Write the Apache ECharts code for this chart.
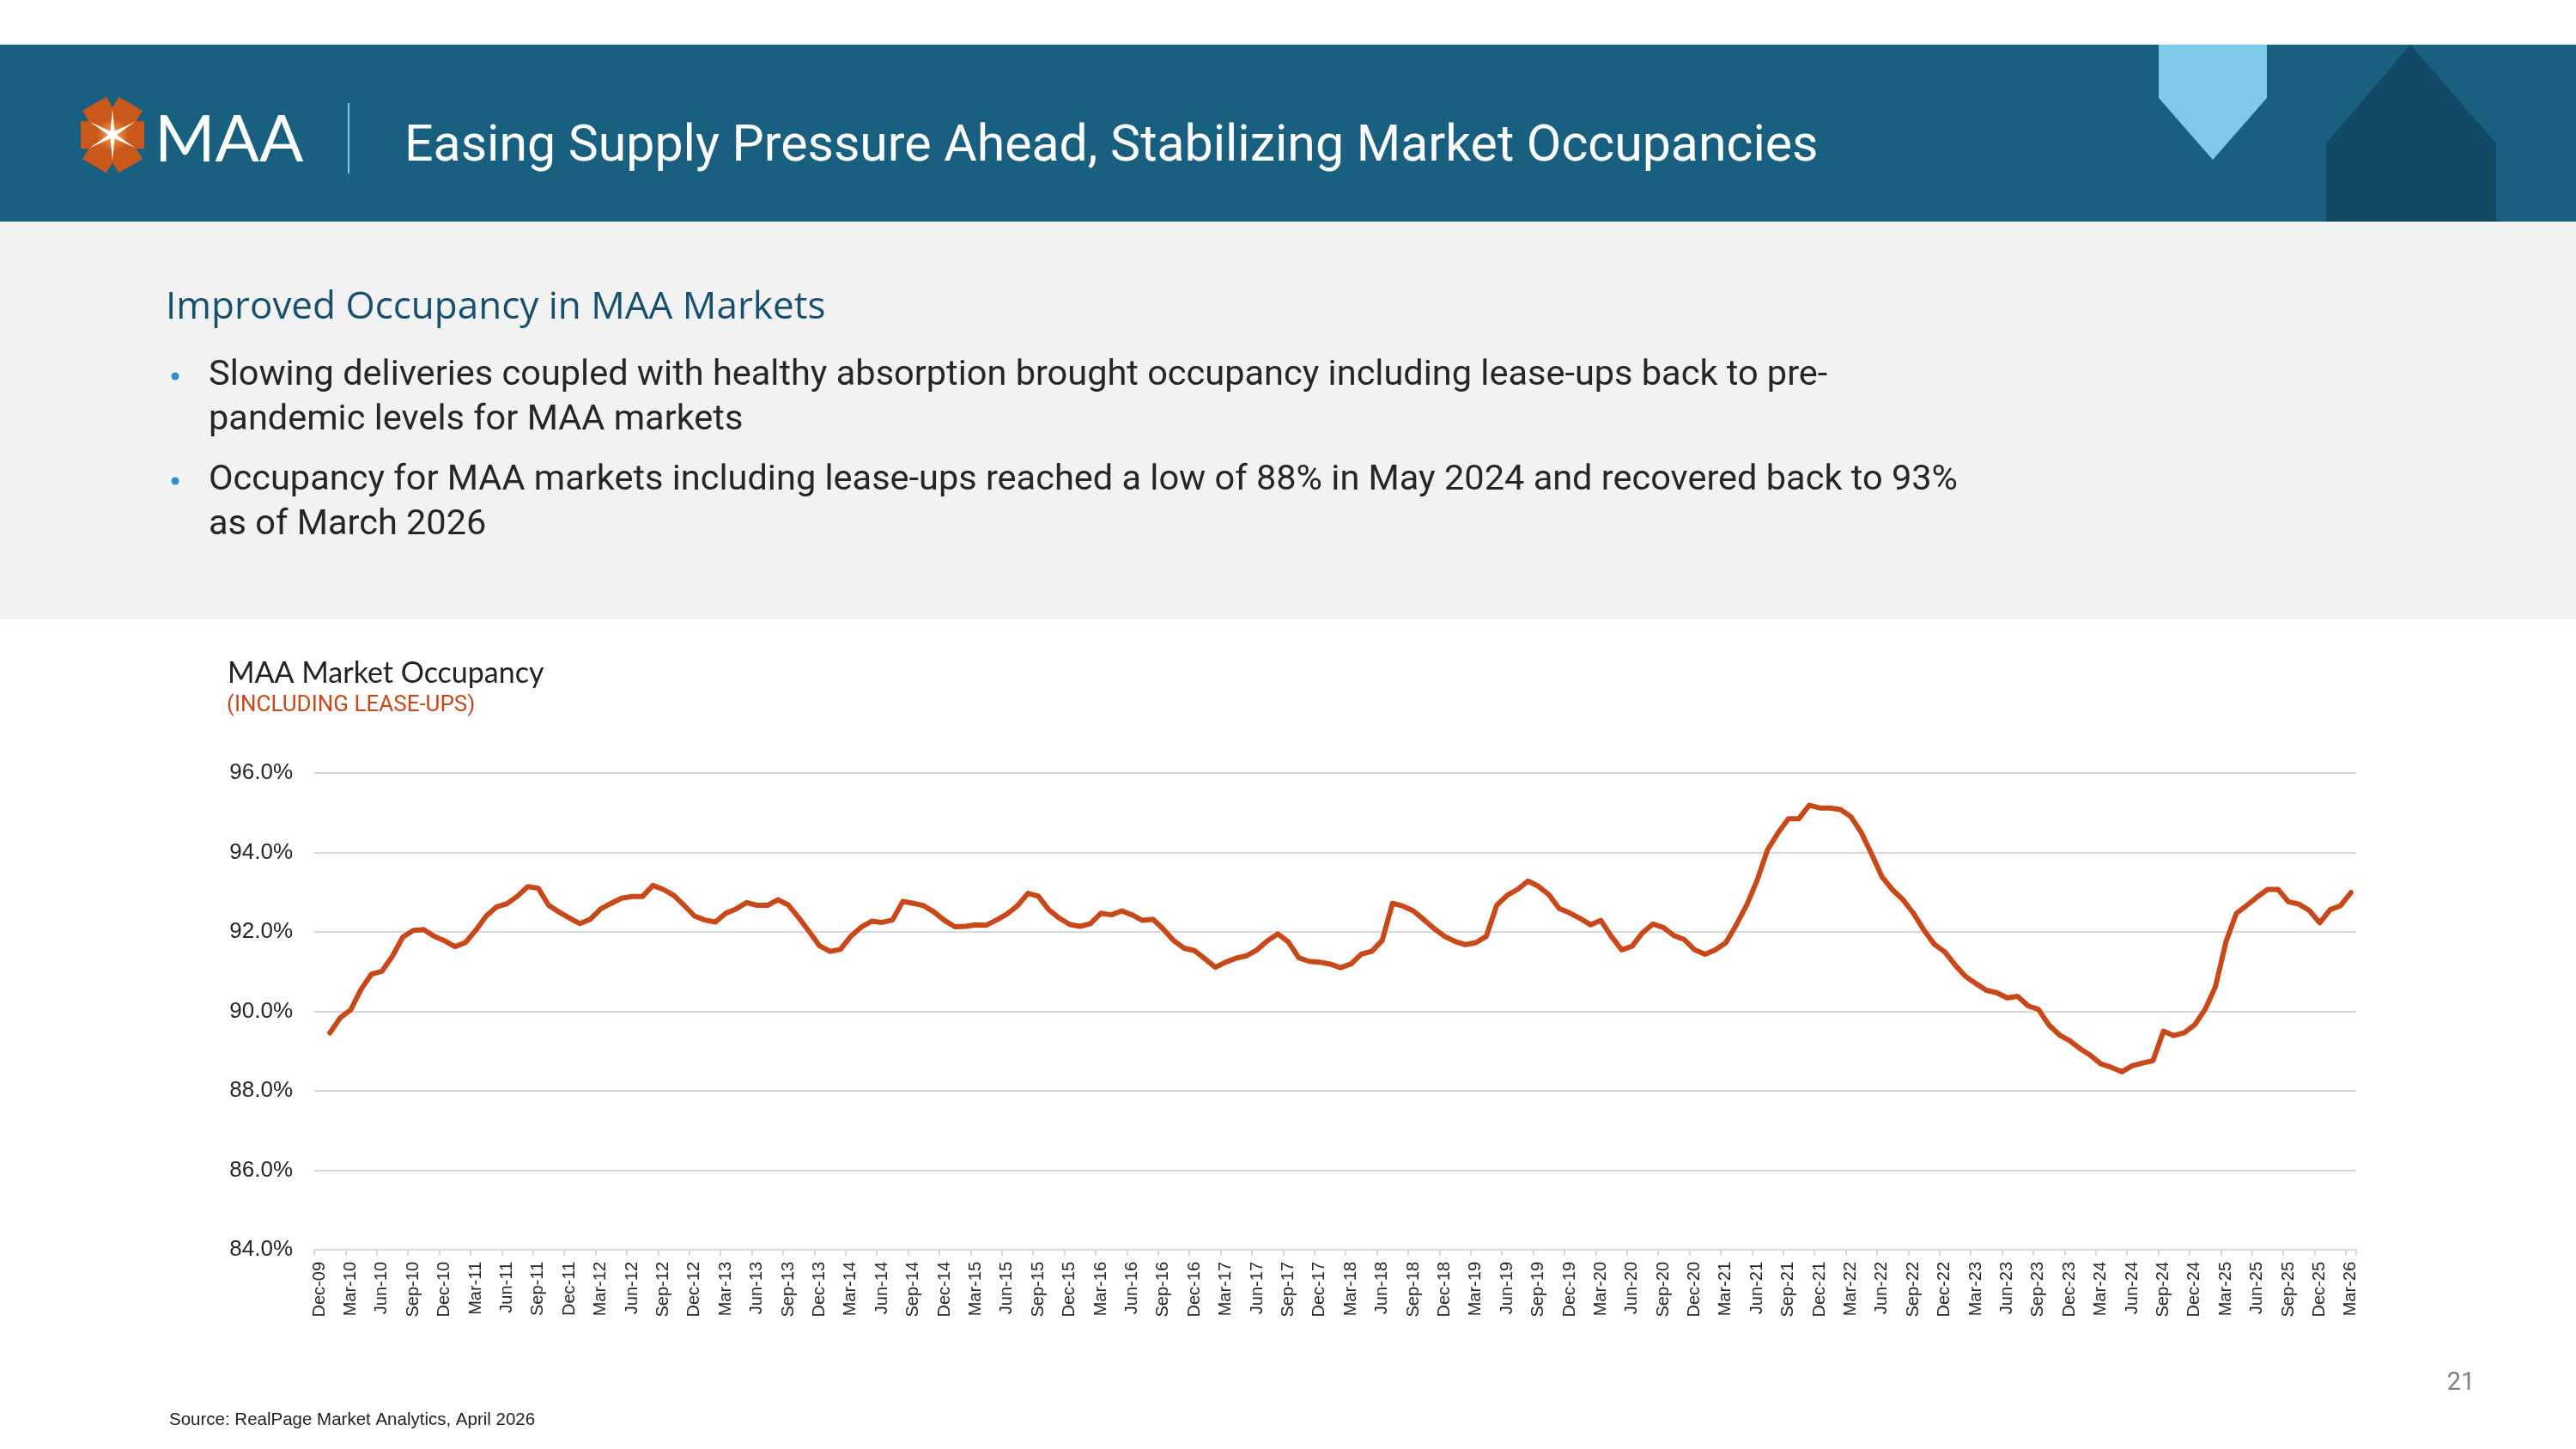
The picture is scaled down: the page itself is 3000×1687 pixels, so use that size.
<!DOCTYPE html>
<html>
<head>
<meta charset="utf-8">
<title>MAA Market Occupancy</title>
<script src="https://cdn.jsdelivr.net/npm/echarts@6.0.0/dist/echarts.min.js"></script>
<style>
    html, body { margin: 0; padding: 0; background: #fff; }
    #slide { width: 3000px; height: 1687px; }
</style>
</head>
<body>
<div id="slide"></div>
<script>
// ---- data ----
var monthNames = ['Jan','Feb','Mar','Apr','May','Jun','Jul','Aug','Sep','Oct','Nov','Dec'];

// monthly occupancy %, Jan-10 .. Mar-26 (RealPage, incl. lease-ups)
var occupancy = [
    89.46, 89.84, 90.04, 90.56, 90.94, 91.01, 91.39, 91.87, 92.04, 92.06, 91.89, 91.78,   // 2010
    91.63, 91.73, 92.04, 92.40, 92.63, 92.71, 92.90, 93.14, 93.10, 92.67, 92.50, 92.35,   // 2011
    92.21, 92.32, 92.58, 92.72, 92.85, 92.89, 92.89, 93.17, 93.07, 92.92, 92.67, 92.40,   // 2012
    92.30, 92.25, 92.47, 92.58, 92.74, 92.67, 92.67, 92.81, 92.68, 92.36, 92.01, 91.65,   // 2013
    91.51, 91.56, 91.89, 92.12, 92.27, 92.24, 92.30, 92.77, 92.72, 92.66, 92.50, 92.29,   // 2014
    92.13, 92.14, 92.18, 92.17, 92.30, 92.45, 92.66, 92.97, 92.90, 92.56, 92.35, 92.19,   // 2015
    92.14, 92.21, 92.47, 92.43, 92.53, 92.43, 92.29, 92.32, 92.07, 91.78, 91.59, 91.53,   // 2016
    91.32, 91.11, 91.24, 91.34, 91.40, 91.55, 91.78, 91.95, 91.75, 91.35, 91.26, 91.24,   // 2017
    91.19, 91.10, 91.19, 91.44, 91.51, 91.78, 92.72, 92.65, 92.53, 92.31, 92.08, 91.89,   // 2018
    91.76, 91.68, 91.73, 91.89, 92.67, 92.92, 93.07, 93.28, 93.15, 92.94, 92.59, 92.48,   // 2019
    92.34, 92.18, 92.29, 91.89, 91.55, 91.64, 91.98, 92.20, 92.11, 91.91, 91.81, 91.55,   // 2020
    91.44, 91.55, 91.73, 92.18, 92.68, 93.30, 94.07, 94.49, 94.85, 94.85, 95.19, 95.12,   // 2021
    95.12, 95.08, 94.90, 94.50, 93.95, 93.38, 93.06, 92.81, 92.47, 92.05, 91.69, 91.50,   // 2022
    91.17, 90.88, 90.70, 90.53, 90.47, 90.34, 90.38, 90.14, 90.05, 89.66, 89.41, 89.26,   // 2023
    89.06, 88.89, 88.68, 88.59, 88.48, 88.63, 88.70, 88.76, 89.50, 89.39, 89.46, 89.66,   // 2024
    90.05, 90.63, 91.75, 92.47, 92.67, 92.88, 93.07, 93.07, 92.76, 92.70, 92.54, 92.23,   // 2025
    92.56, 92.66, 92.99                                                                   // 2026
];

var yMin = 84, yMax = 96, yStep = 2;

var bullets = [
    ['Slowing deliveries coupled with healthy absorption brought occupancy including lease-ups back to pre-',
     'pandemic levels for MAA markets'],
    ['Occupancy for MAA markets including lease-ups reached a low of 88% in May 2024 and recovered back to 93%',
     'as of March 2026']
];

// axis starts one month before the first reading (Dec-09)
var months = ['Dec-09'];
for (var yr = 10; yr <= 26; yr++) {
    for (var m = 0; m < 12; m++) {
        if (yr == 26 && m > 2) break;
        months.push(monthNames[m] + '-' + yr);
    }
}
var lineData = ['-'].concat(occupancy);

// ---- slide decoration ----
var ORANGE = '#c9481a';
var HEADER = '#195f80';

function starPoints(cx, cy, rOut, rIn, n, rot) {
    var pts = [];
    for (var i = 0; i < n * 2; i++) {
        var r = (i % 2 == 0) ? rOut : rIn;
        var a = rot + Math.PI * i / n;
        pts.push([cx + r * Math.cos(a), cy + r * Math.sin(a)]);
    }
    return pts;
}

var logoFill = {
    type: 'radial', x: 0.5, y: 0.5, r: 0.6,
    colorStops: [{offset: 0, color: '#f7b27a'}, {offset: 0.55, color: '#e37b2e'}, {offset: 1, color: '#c9581a'}]
};

var graphics = [
    {type: 'rect', shape: {x: 0, y: 52, width: 3000, height: 206}, style: {fill: HEADER}},
    {type: 'rect', shape: {x: 0, y: 258, width: 3000, height: 463}, style: {fill: '#f2f2f2'}},
    {type: 'polygon', shape: {points: [[2514, 52], [2640, 52], [2640, 114], [2577, 186], [2514, 114]]}, style: {fill: '#7fc9ea'}},
    {type: 'polygon', shape: {points: [[2709, 258], [2709, 167], [2807, 52], [2907, 167], [2907, 258]]}, style: {fill: '#124a66'}},
    // logo
    {type: 'rect', x: 131, y: 157, rotation: 0, shape: {x: -37, y: -16, width: 74, height: 32}, style: {fill: logoFill}},
    {type: 'rect', x: 131, y: 157, rotation: Math.PI / 3, shape: {x: -42, y: -16, width: 84, height: 32}, style: {fill: logoFill}},
    {type: 'rect', x: 131, y: 157, rotation: -Math.PI / 3, shape: {x: -42, y: -16, width: 84, height: 32}, style: {fill: logoFill}},
    {type: 'polygon', shape: {points: starPoints(131, 157, 30, 5, 6, -Math.PI / 2)}, style: {fill: '#ffffff'}},
    {type: 'text', x: 180, y: 163, style: {text: 'MAA', fontSize: 76, fontFamily: 'Lato', fill: '#ffffff', verticalAlign: 'middle'}},
    {type: 'line', shape: {x1: 406, y1: 120, x2: 406, y2: 202}, style: {stroke: '#7fc9ea', lineWidth: 2}},
    {type: 'text', x: 471, y: 172, style: {text: 'Easing Supply Pressure Ahead, Stabilizing Market Occupancies',
        fontSize: 59, fontFamily: 'Roboto', fill: '#ffffff', verticalAlign: 'middle'}},
    // sub heading + bullets
    {type: 'text', x: 193, y: 358, style: {text: 'Improved Occupancy in MAA Markets',
        fontSize: 44, fontFamily: 'Open Sans', fill: '#17506f', verticalAlign: 'middle'}},
    // chart titles
    {type: 'text', x: 265, y: 784, style: {text: 'MAA Market Occupancy',
        fontSize: 34, fontFamily: 'Lato', fill: '#222222', verticalAlign: 'middle'}},
    {type: 'text', x: 264, y: 821, style: {text: '(INCLUDING LEASE-UPS)',
        fontSize: 26, fontFamily: 'Roboto', fill: ORANGE, verticalAlign: 'middle'}},
    // footer
    {type: 'text', x: 197, y: 1653, style: {text: 'Source: RealPage Market Analytics, April 2026',
        fontSize: 20.5, fontFamily: 'Liberation Sans', fill: '#222222', verticalAlign: 'middle'}},
    {type: 'text', x: 2866, y: 1611, style: {text: '21',
        fontSize: 29, fontFamily: 'Roboto', fill: '#7f7f7f', align: 'center', verticalAlign: 'middle'}}
];

var bulletTop = [438, 560];
for (var b = 0; b < bullets.length; b++) {
    graphics.push({type: 'circle', shape: {cx: 204, cy: bulletTop[b], r: 4.5}, style: {fill: '#2f8fc8'}});
    for (var l = 0; l < bullets[b].length; l++) {
        graphics.push({type: 'text', x: 243, y: bulletTop[b] + l * 52, style: {text: bullets[b][l],
            fontSize: 41.5, fontFamily: 'Roboto', fill: '#262626', verticalAlign: 'middle'}});
    }
}

// ---- chart ----
var chart = echarts.init(document.getElementById('slide'), null, {renderer: 'canvas'});
var option = {
    animation: false,
    backgroundColor: '#ffffff',
    graphic: graphics,
    grid: {left: 366, right: 256, top: 900, bottom: 232, containLabel: false},
    xAxis: {
        type: 'category',
        data: months,
        boundaryGap: true,
        axisLine: {lineStyle: {color: '#d9d9d9', width: 2}},
        axisTick: {show: true, interval: 2, length: 7, lineStyle: {color: '#d9d9d9', width: 2}},
        axisLabel: {
            interval: 2, rotate: 90, margin: 14,
            fontSize: 20, fontFamily: 'Liberation Sans', color: '#262626'
        },
        splitLine: {show: false}
    },
    yAxis: {
        type: 'value',
        min: yMin, max: yMax, interval: yStep,
        axisLine: {show: false},
        axisTick: {show: false},
        axisLabel: {
            margin: 25, fontSize: 26, fontFamily: 'Liberation Sans', color: '#262626',
            formatter: function (v) { return v.toFixed(1) + '%'; }
        },
        splitLine: {lineStyle: {color: '#d9d9d9', width: 2}}
    },
    series: [{
        name: 'MAA Market Occupancy',
        type: 'line',
        data: lineData,
        symbol: 'none',
        lineStyle: {color: ORANGE, width: 6, cap: 'round', join: 'round'},
        z: 5
    }]
};
chart.setOption(option);
</script>
</body>
</html>
